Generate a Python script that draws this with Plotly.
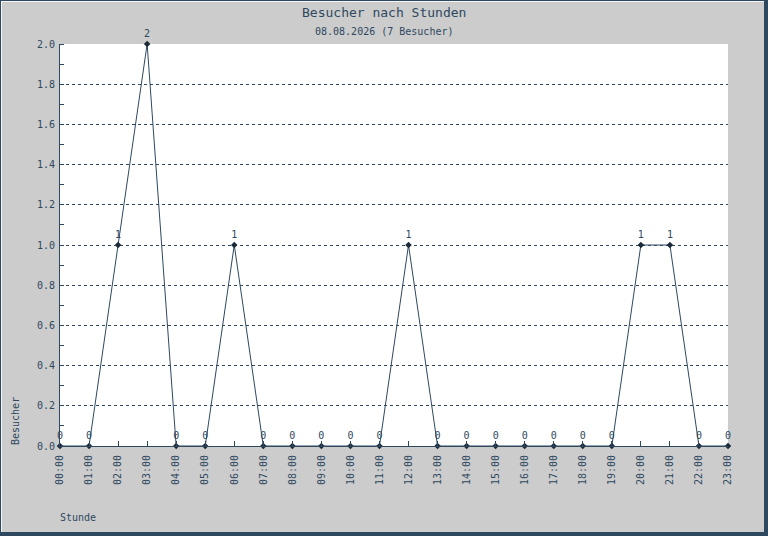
import plotly.graph_objects as go

# Besucher pro Stunde am 08.08.2026
stunden = ["%02d:00" % h for h in range(24)]
besucher = [0, 0, 1, 2, 0, 0, 1, 0, 0, 0, 0, 0, 1, 0, 0, 0, 0, 0, 0, 0, 1, 1, 0, 0]
y_ticks = [0.0, 0.2, 0.4, 0.6, 0.8, 1.0, 1.2, 1.4, 1.6, 1.8, 2.0]

titel = "Besucher nach Stunden"
untertitel = "08.08.2026 (7 Besucher)"

W, H = 768, 536
ML, MR, MT, MB = 60, 40, 44, 90
DARK = "#2e4860"
GREY = "#cccccc"
FONT = "DejaVu Sans Mono"


def px(x):
    return (x - ML) / (W - ML - MR)


def py(y):
    return (H - MB - y) / (H - MT - MB)


def rahmen_linie(x0, y0, x1, y1, color, width):
    return dict(type="line", xref="paper", yref="paper",
                x0=px(x0), x1=px(x1), y0=py(y0), y1=py(y1),
                line=dict(color=color, width=width))


fig = go.Figure()

fig.add_trace(
    go.Scatter(
        x=list(range(24)),
        y=besucher,
        mode="lines+markers+text",
        text=[str(v) for v in besucher],
        textposition="top center",
        textfont=dict(family=FONT, size=10, color=DARK),
        line=dict(color=DARK, width=1),
        marker=dict(color="#1a2a38", size=5, symbol="diamond"),
        cliponaxis=False,
        hoverinfo="skip",
    )
)

# Rahmen (Bevel-Optik)
shapes = [
    rahmen_linie(0, 0.5, W, 0.5, DARK, 1),
    rahmen_linie(0.5, 0, 0.5, H, DARK, 1),
    rahmen_linie(W - 2, 0, W - 2, H, DARK, 4),
    rahmen_linie(0, H - 2, W, H - 2, DARK, 4),
    rahmen_linie(1, 1.5, W - 4, 1.5, "#f4f4f4", 1),
    rahmen_linie(1.5, 1, 1.5, H - 4, "#f4f4f4", 1),
]

annotations = [
    dict(text=titel, x=px(384), xref="paper", y=py(13), yref="paper",
         showarrow=False, font=dict(family=FONT, size=13, color=DARK),
         xanchor="center", yanchor="middle"),
    dict(text=untertitel, x=px(384), xref="paper", y=py(32), yref="paper",
         showarrow=False, font=dict(family=FONT, size=10, color=DARK),
         xanchor="center", yanchor="middle"),
    dict(text="Besucher", x=px(15), xref="paper", y=py(447), yref="paper",
         showarrow=False, textangle=-90, font=dict(family=FONT, size=10, color=DARK),
         xanchor="center", yanchor="bottom"),
    dict(text="Stunde", x=px(58), xref="paper", y=py(517), yref="paper",
         showarrow=False, font=dict(family=FONT, size=10, color=DARK),
         xanchor="left", yanchor="middle"),
]

fig.update_layout(
    width=W,
    height=H,
    margin=dict(l=ML, r=MR, t=MT, b=MB),
    paper_bgcolor=GREY,
    plot_bgcolor="white",
    showlegend=False,
    font=dict(family=FONT, size=10, color=DARK),
    shapes=shapes,
    annotations=annotations,
    xaxis=dict(
        range=[0, 23],
        tickvals=list(range(24)),
        ticktext=stunden,
        tickangle=-90,
        ticks="inside",
        ticklen=5,
        tickcolor=DARK,
        showgrid=False,
        zeroline=False,
        showline=True,
        linecolor=DARK,
        linewidth=1,
        ticklabelstandoff=4,
        tickfont=dict(family=FONT, size=10, color=DARK),
    ),
    yaxis=dict(
        range=[0, 2],
        tickvals=y_ticks,
        ticktext=["%.1f" % v for v in y_ticks],
        ticks="",
        showgrid=True,
        gridcolor=DARK,
        griddash="3px,3px",
        gridwidth=1,
        zeroline=False,
        showline=True,
        linecolor=DARK,
        linewidth=1,
        ticklabelstandoff=2,
        tickfont=dict(family=FONT, size=10, color=DARK),
        minor=dict(dtick=0.1, ticks="inside", ticklen=4, tickcolor=DARK, showgrid=False),
    ),
)

# Seitenrand des Browsers entfernen, damit die Grafik bei 0,0 beginnt
fig.write_html(
    "out.html",
    config={"displayModeBar": False},
    post_script="document.body.style.margin='0';",
)
